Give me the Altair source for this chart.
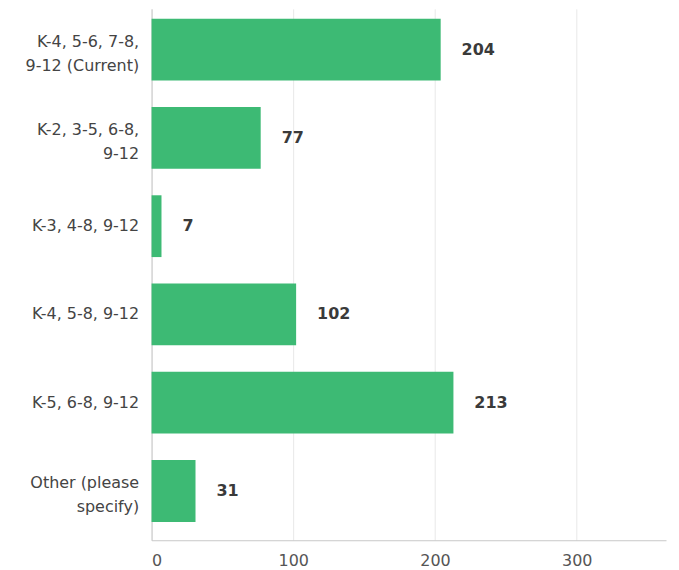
import altair as alt
import pandas as pd

categories = [
    "K-4, 5-6, 7-8,|9-12 (Current)",
    "K-2, 3-5, 6-8,|9-12",
    "K-3, 4-8, 9-12",
    "K-4, 5-8, 9-12",
    "K-5, 6-8, 9-12",
    "Other (please|specify)",
]
values = [204, 77, 7, 102, 213, 31]
x_ticks = [0, 100, 200, 300]

df = pd.DataFrame({"cat": categories, "val": values})

FONT = "DejaVu Sans"

base = alt.Chart(df).encode(
    y=alt.Y(
        "cat:N",
        sort=categories,
        title=None,
        scale=alt.Scale(paddingInner=0.3, paddingOuter=0.16, align=0.35),
        axis=alt.Axis(
            labelExpr="split(datum.label, '|')",
            labelFontSize=16,
            labelColor="#444444",
            labelFont=FONT,
            labelLineHeight=24,
            labelPadding=13,
            labelOffset={"condition": {"test": "indexof(datum.value, '|') >= 0", "value": -8}, "value": 0},
            ticks=False,
            domainColor="#c8c8c8",
            grid=False,
            minExtent=139,
            maxExtent=139,
            labelLimit=200,
        ),
    ),
    x=alt.X(
        "val:Q",
        title=None,
        scale=alt.Scale(domain=[0, 363], nice=False),
        axis=alt.Axis(
            values=x_ticks,
            labelFontSize=16,
            labelColor="#555555",
            labelFont=FONT,
            labelPadding=12,
            ticks=False,
            domainColor="#c8c8c8",
            gridColor="#e8e8e8",
        ),
    ),
)

bars = base.mark_bar(color="#3dba74")
text = base.mark_text(
    align="left", baseline="middle", dx=21, fontSize=16, fontWeight="bold",
    color="#3a3a3a", font=FONT
).encode(text="val:Q")

chart = (
    (bars + text)
    .properties(width=516, height=533, padding={"left": 5, "top": 0, "right": 5, "bottom": 5})
    .configure_view(stroke=None)
)

chart.save("out.html", embed_options={"renderer": "svg", "actions": False})
